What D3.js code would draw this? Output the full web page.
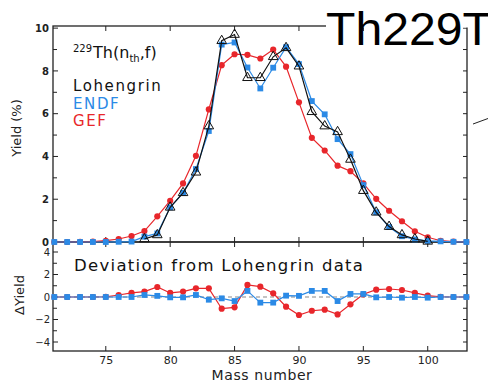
<!DOCTYPE html>
<html lang="en">
<head>
    <meta charset="UTF-8">
    <title>Th229 fission yields</title>
    <style>
        body { margin: 0; background: #fff; }
        svg { display: block; font-family: 'DejaVu Sans', sans-serif; }
    </style>
</head>
<body>
    <div id="chart"></div>

    <script src="https://d3js.org/d3.v7.min.js"></script>
    <script>
        // Mass numbers shown for the models
        const masses = [71, 72, 73, 74, 75, 76, 77, 78, 79, 80, 81, 82, 83, 84, 85, 86, 87,
                        88, 89, 90, 91, 92, 93, 94, 95, 96, 97, 98, 99, 100, 101, 102, 103];
        // Lohengrin measurement (mass 78 - 100)
        const lohMasses = [78, 79, 80, 81, 82, 83, 84, 85, 86, 87, 88, 89,
                           90, 91, 92, 93, 94, 95, 96, 97, 98, 99, 100];
        const lohYield = [0.14, 0.33, 1.62, 2.3, 3.26, 5.42, 9.41, 9.7, 7.68, 7.68, 8.66, 9.08,
                          8.22, 6.09, 5.42, 5.15, 3.86, 2.4, 1.39, 0.72, 0.33, 0.14, 0.03];
        const endfYield = [0, 0, 0, 0, 0, 0.01, 0.02, 0.25, 0.4, 1.62, 2.3, 3.41, 5.19, 9.23, 9.33, 8.16, 7.18,
                           8.15, 9.11, 8.32, 6.59, 5.97, 4.81, 4.11, 2.66, 1.39, 0.7, 0.27, 0.12, 0.05, 0.03, 0.01, 0];
        const gefYield = [0, 0, 0.01, 0.02, 0.06, 0.14, 0.28, 0.51, 1.2, 1.93, 2.74, 4.03, 6.2, 8.27, 8.78, 8.75, 8.58,
                          9.0, 8.2, 6.53, 4.87, 4.28, 3.57, 3.31, 2.74, 2.02, 1.46, 0.97, 0.5, 0.22, 0.06, 0.02, 0];
        // Deviations from Lohengrin
        const endfDev = [0, 0, 0, 0, 0, 0, 0, 0.18, 0.1, -0.03, -0.03, 0.18, -0.24, -0.12, -0.36, 0.54, -0.5,
                         -0.5, 0.12, 0.1, 0.54, 0.54, -0.36, 0.27, 0.27, -0.03, 0, -0.06, 0, -0.06, 0, 0, 0];
        const gefDev = [0, 0, 0, 0, 0.02, 0.18, 0.36, 0.48, 0.89, 0.36, 0.48, 0.77, 0.77, -1.04, -0.92, 1.07, 0.92,
                        0.33, -0.86, -1.6, -1.22, -1.13, -1.55, -0.65, 0.24, 0.65, 0.71, 0.62, 0.36, 0.12, 0.02, 0, 0];

        const xTicks = [75, 80, 85, 90, 95, 100];
        const yTopTicks = [0, 2, 4, 6, 8, 10];
        const yBotTicks = [-4, -2, 0, 2, 4];

        const RED = '#e8262b';
        const BLUE = '#2b8ae6';

        const width = 488, height = 382;
        const left = 53, right = 467;
        const topY0 = 26, topY1 = 242, botY0 = 243, botY1 = 351;

        const svg = d3.select('#chart').append('svg')
            .attr('width', width)
            .attr('height', height);

        const x = d3.scaleLinear().domain([70.9, 103.05]).range([left, right]);
        const yTop = d3.scaleLinear().domain([0, 10.1]).range([topY1, topY0]);
        const yBot = d3.scaleLinear().domain([-4.8, 4.8]).range([botY1, botY0]);

        // frames
        svg.append('rect')
            .attr('x', left).attr('y', topY0)
            .attr('width', right - left).attr('height', topY1 - topY0)
            .attr('fill', 'none').attr('stroke', '#222').attr('stroke-width', 1.3);
        svg.append('rect')
            .attr('x', left).attr('y', topY1)
            .attr('width', right - left).attr('height', botY1 - topY1)
            .attr('fill', 'none').attr('stroke', '#222').attr('stroke-width', 1.3);

        // x ticks: crossing the shared line, and inward on top/bottom
        xTicks.forEach(t => {
            svg.append('line').attr('x1', x(t)).attr('x2', x(t))
                .attr('y1', topY1 - 5).attr('y2', topY1 + 5).attr('stroke', '#222');
            svg.append('line').attr('x1', x(t)).attr('x2', x(t))
                .attr('y1', topY0).attr('y2', topY0 + 5).attr('stroke', '#222');
            svg.append('line').attr('x1', x(t)).attr('x2', x(t))
                .attr('y1', botY1).attr('y2', botY1 - 5).attr('stroke', '#222');
        });

        svg.append('g')
            .attr('transform', `translate(0,${botY1})`)
            .call(d3.axisBottom(x).tickValues(xTicks).tickSize(0).tickPadding(5))
            .call(g => g.select('.domain').remove())
            .selectAll('text')
            .style('font-family', 'DejaVu Sans, sans-serif')
            .style('font-size', '11px')
            .attr('fill', '#222');

        // y ticks, every unit, inward, both sides
        d3.range(0, 11).forEach(v => {
            const len = v % 2 === 0 ? 5 : 4;
            svg.append('line').attr('x1', left).attr('x2', left + len)
                .attr('y1', yTop(v)).attr('y2', yTop(v)).attr('stroke', '#222');
            svg.append('line').attr('x1', right).attr('x2', right - 4)
                .attr('y1', yTop(v)).attr('y2', yTop(v)).attr('stroke', '#222');
        });
        d3.range(-4, 5).forEach(v => {
            const len = v % 2 === 0 ? 5 : 4;
            svg.append('line').attr('x1', left).attr('x2', left + len)
                .attr('y1', yBot(v)).attr('y2', yBot(v)).attr('stroke', '#222');
            svg.append('line').attr('x1', right).attr('x2', right - 4)
                .attr('y1', yBot(v)).attr('y2', yBot(v)).attr('stroke', '#222');
        });

        svg.append('g')
            .attr('transform', `translate(${left - 4},0)`)
            .call(d3.axisLeft(yTop).tickValues(yTopTicks).tickSize(0).tickPadding(0))
            .call(g => g.select('.domain').remove())
            .selectAll('text')
            .style('font-family', 'DejaVu Sans, sans-serif')
            .style('font-size', '10px')
            .style('font-weight', 'bold')
            .attr('fill', '#222');

        svg.append('g')
            .attr('transform', `translate(${left - 3},0)`)
            .call(d3.axisLeft(yBot).tickValues(yBotTicks).tickSize(0).tickPadding(0))
            .call(g => g.select('.domain').remove())
            .selectAll('text')
            .style('font-family', 'DejaVu Sans, sans-serif')
            .style('font-size', '10px')
            .attr('fill', '#222');

        // zero reference line in deviation panel
        svg.append('line')
            .attr('x1', left).attr('x2', right)
            .attr('y1', yBot(0)).attr('y2', yBot(0))
            .attr('stroke', '#888').attr('stroke-width', 1.2)
            .attr('stroke-dasharray', '4,3');

        function drawSeries(xs, ys, yScale, color, shape) {
            const pts = xs.map((m, i) => [m, ys[i]]);
            const line = d3.line().x(d => x(d[0])).y(d => yScale(d[1]));
            svg.append('path')
                .datum(pts)
                .attr('d', line)
                .attr('fill', 'none')
                .attr('stroke', color)
                .attr('stroke-width', 1.2);
            const sym = d3.symbol().type(shape === 'circle' ? d3.symbolCircle
                : shape === 'square' ? d3.symbolSquare : d3.symbolTriangle)
                .size(shape === 'circle' ? 30 : shape === 'square' ? 34 : 40);
            svg.append('g').selectAll('path')
                .data(pts)
                .enter()
                .append('path')
                .attr('transform', d => `translate(${x(d[0])},${yScale(d[1])})`)
                .attr('d', sym)
                .attr('fill', shape === 'triangle' ? 'none' : color)
                .attr('stroke', shape === 'triangle' ? color : 'none')
                .attr('stroke-width', 1);
        }

        drawSeries(masses, gefYield, yTop, RED, 'circle');
        drawSeries(masses, endfYield, yTop, BLUE, 'square');
        drawSeries(lohMasses, lohYield, yTop, '#111', 'triangle');

        drawSeries(masses, gefDev, yBot, RED, 'circle');
        drawSeries(masses, endfDev, yBot, BLUE, 'square');

        // annotations
        const reaction = svg.append('text')
            .attr('x', 73).attr('y', 58)
            .style('font-size', '16px')
            .attr('fill', '#111');
        reaction.append('tspan').text('229').style('font-size', '10px').attr('dy', -6);
        reaction.append('tspan').text('Th(n').attr('dy', 6).attr('dx', 1);
        reaction.append('tspan').text('th').style('font-size', '10px').attr('dy', 4);
        reaction.append('tspan').text(',f)').attr('dy', -4);

        const legend = [['Lohengrin', '#111', 91], ['ENDF', BLUE, 108.5], ['GEF', RED, 126]];
        legend.forEach(([label, color, yy]) => {
            svg.append('text')
                .attr('x', 73).attr('y', yy)
                .style('font-size', '15px')
                .style('letter-spacing', '1.6px')
                .attr('fill', color)
                .text(label);
        });

        svg.append('text')
            .attr('x', 74).attr('y', 271)
            .style('font-size', '16.5px')
            .style('letter-spacing', '1.3px')
            .attr('fill', '#111')
            .text('Deviation from Lohengrin data');

        // axis titles
        svg.append('text')
            .attr('transform', 'translate(21,128) rotate(-90)')
            .attr('text-anchor', 'middle')
            .style('font-size', '13px')
            .attr('fill', '#222')
            .text('Yield (%)');
        svg.append('text')
            .attr('transform', 'translate(24,295) rotate(-90)')
            .attr('text-anchor', 'middle')
            .style('font-size', '13px')
            .attr('fill', '#222')
            .text('\u0394Yield');
        svg.append('text')
            .attr('x', 262).attr('y', 380)
            .attr('text-anchor', 'middle')
            .style('font-size', '14px')
            .style('letter-spacing', '0.6px')
            .attr('fill', '#222')
            .text('Mass number');

        // big overlaid title with its white box (runs off the right edge, as in the source)
        svg.append('rect')
            .attr('x', 326).attr('y', 0)
            .attr('width', width - 326).attr('height', 27.5)
            .attr('fill', '#fff');
        svg.append('text')
            .attr('x', 326).attr('y', 45)
            .attr('textLength', 166)
            .attr('lengthAdjust', 'spacingAndGlyphs')
            .style('font-family', 'Liberation Sans, Arial, sans-serif')
            .style('font-size', '47px')
            .attr('fill', '#000')
            .text('Th229T');

        svg.append('line')
            .attr('x1', 473).attr('y1', 124)
            .attr('x2', 488).attr('y2', 118.5)
            .attr('stroke', '#222').attr('stroke-width', 1);
    </script>
</body>
</html>
